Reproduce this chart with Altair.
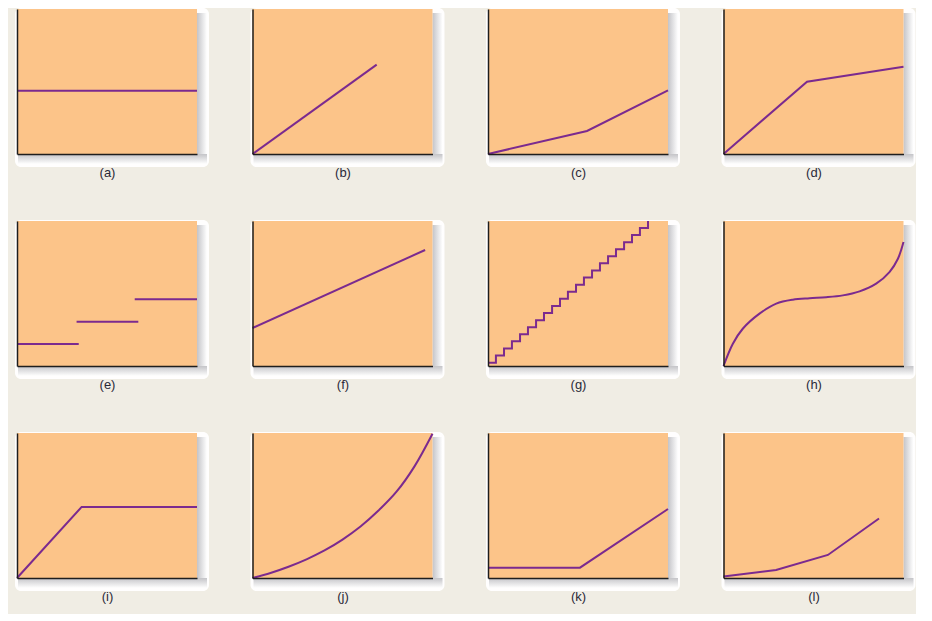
import altair as alt
import pandas as pd

# ---------------- data (units 0-100) ----------------
labels = ["(a)", "(b)", "(c)", "(d)", "(e)", "(f)", "(g)", "(h)", "(i)", "(j)", "(k)", "(l)"]

a_x = [0, 100];            a_y = [43.7, 43.7]
b_x = [0, 69];             b_y = [0, 61.6]
c_x = [0, 55, 100];        c_y = [0, 15.9, 43.9]
d_x = [0, 46.4, 100];      d_y = [0, 49.9, 60.2]
e_seg = [1, 1, 2, 2, 3, 3]
e_x = [0, 34.3, 33.1, 67.4, 65.4, 100]
e_y = [15.2, 15.2, 30.6, 30.6, 46.0, 46.0]
f_x = [0, 95.9];           f_y = [26.2, 80.0]
g_x = [0, 4.4, 8.9, 13.3, 17.8, 22.2, 26.7, 31.1, 35.6, 40.0, 44.4,
       48.9, 53.3, 57.8, 62.2, 66.7, 71.1, 75.6, 80.0, 84.4, 88.9]
g_y = [2.3, 7.2, 12.1, 17.0, 21.9, 26.8, 31.6, 36.5, 41.4, 46.3, 51.2,
       56.1, 61.0, 65.9, 70.8, 75.7, 80.5, 85.4, 90.3, 95.2, 100.0]
h_x = [0, 5.2, 10.7, 20, 29.3, 38.5, 47.8, 57, 66.3, 75.6, 84.8, 92.2, 96.9, 100]
h_y = [0, 15.4, 25.7, 36.1, 43, 45.7, 46.7, 47.4, 48.7, 51.5, 56.8, 64.8, 74, 85.5]
i_x = [0, 35.9, 100];      i_y = [0, 49, 49]
j_x = [0, 10, 20, 30, 40, 50, 60, 70, 80, 90, 100]
j_y = [0, 3.5, 7.8, 12.9, 19.0, 26.5, 35.5, 46.5, 59.5, 77.0, 99.5]
k_x = [0, 51.1, 100];      k_y = [7.1, 7.1, 47.6]
l_x = [0, 29.2, 58, 86.4]; l_y = [1, 5.5, 15.9, 41]

series = [
    (a_x, a_y, None, "linear"),
    (b_x, b_y, None, "linear"),
    (c_x, c_y, None, "linear"),
    (d_x, d_y, None, "linear"),
    (e_x, e_y, e_seg, "linear"),
    (f_x, f_y, None, "linear"),
    (g_x, g_y, None, "step-after"),
    (h_x, h_y, None, "catmull-rom"),
    (i_x, i_y, None, "linear"),
    (j_x, j_y, None, "catmull-rom"),
    (k_x, k_y, None, "linear"),
    (l_x, l_y, None, "linear"),
]

# ---------------- style ----------------
W, H = 180, 145
ORANGE = "#fcc489"
PURPLE = "#7b2a8f"
BG = "#f0ede4"
FONT = "Liberation Sans"

one = alt.Data(values=[{"k": 1}])

grad_h = alt.LinearGradient(gradient="linear", x1=0, x2=1, y1=0, y2=0,
                            stops=[alt.GradientStop(color="#c4c4c8", offset=0),
                                   alt.GradientStop(color="#ffffff", offset=1)])
grad_v = alt.LinearGradient(gradient="linear", x1=0, x2=0, y1=0, y2=1,
                            stops=[alt.GradientStop(color="#c4c4c8", offset=0),
                                   alt.GradientStop(color="#ffffff", offset=1)])

xs = alt.Scale(domain=[0, 100], nice=False, zero=False)
ys = alt.Scale(domain=[0, 100], nice=False, zero=False)


def panel(idx):
    px, py, seg, interp = series[idx]
    df = pd.DataFrame({"x": px, "y": py, "seg": seg if seg else [0] * len(px)})

    card = alt.Chart(one).mark_rect(color="white", cornerRadius=6, opacity=0.95).encode(
        x=alt.value(-2), x2=alt.value(W + 12), y=alt.value(-1), y2=alt.value(H + 13))
    sh_r = alt.Chart(one).mark_rect(fill=grad_h).encode(
        x=alt.value(W), x2=alt.value(W + 10), y=alt.value(4), y2=alt.value(H + 9))
    sh_b = alt.Chart(one).mark_rect(fill=grad_v).encode(
        x=alt.value(1), x2=alt.value(W + 10), y=alt.value(H), y2=alt.value(H + 10))
    orange = alt.Chart(one).mark_rect(color=ORANGE).encode(
        x=alt.datum(0, scale=xs), x2=alt.datum(100),
        y=alt.datum(0, scale=ys), y2=alt.datum(100))

    enc = dict(
        x=alt.X("x:Q", scale=xs,
                axis=alt.Axis(title=labels[idx], labels=False, ticks=False, grid=False,
                              domainColor="#1e1e1e", domainWidth=1.5, zindex=1,
                              titleFont=FONT, titleFontSize=13, titleFontWeight="normal",
                              titleColor="#2a2a38", titlePadding=12)),
        y=alt.Y("y:Q", scale=ys,
                axis=alt.Axis(title=None, labels=False, ticks=False, grid=False,
                              domainColor="#1e1e1e", domainWidth=1.5, zindex=1)),
        detail="seg:N",
    )
    line = alt.Chart(df).mark_line(color=PURPLE, strokeWidth=2, interpolate=interp).encode(**enc)
    return alt.layer(card, sh_r, sh_b, orange, line).properties(width=W, height=H)


chart = alt.concat(*[panel(i) for i in range(12)], columns=4,
                   spacing=alt.RowColnumber(row=67, column=55.5), bounds="flush").properties(
    padding={"left": 5, "top": 0, "right": 0, "bottom": 11}
).configure(background=BG).configure_view(stroke=None)

chart.save("out.html", embed_options={"renderer": "svg", "actions": False})
